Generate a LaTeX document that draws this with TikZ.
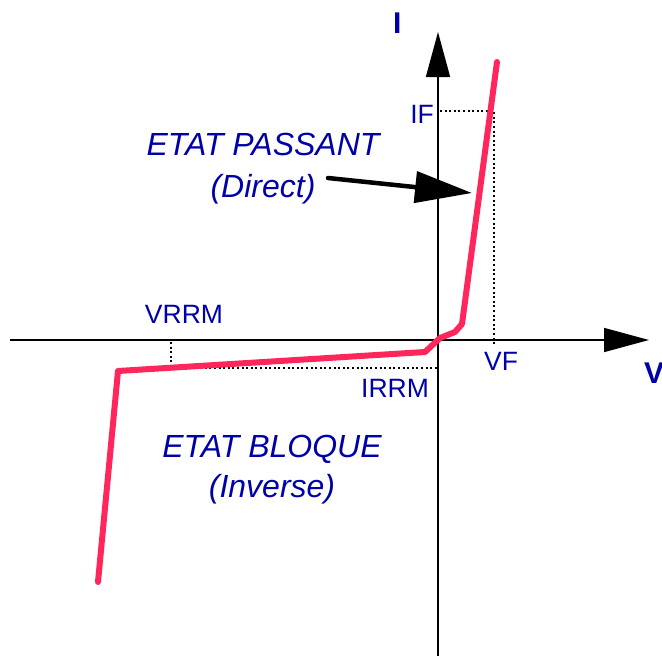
\documentclass[tikz,border=0pt]{standalone}
\usepackage{fontspec}
\setmainfont{Liberation Sans}
\usetikzlibrary{arrows.meta}
\definecolor{lblblue}{RGB}{0,0,168}
\definecolor{curvered}{RGB}{255,38,92}
\tikzset{
  axis/.style={line width=1.6pt, -{Triangle[length=45pt,width=24pt]}},
  guide/.style={line width=2pt, dash pattern=on 2pt off 2.6pt},
  biglbl/.style={text=lblblue, font=\fontsize{32}{36}\selectfont\itshape, inner sep=0pt, anchor=base},
  smalllbl/.style={text=lblblue, font=\fontsize{26.5}{30}\selectfont, inner sep=0pt, anchor=base},
  axislbl/.style={text=lblblue, font=\fontsize{30}{34}\selectfont\bfseries, inner sep=0pt, anchor=base west},
  curve/.style={curvered, line width=6pt, line join=round, line cap=round},
  pointer/.style={line width=4.5pt, line cap=round, -{Triangle[length=57pt,width=31pt]}}
}
\begin{document}
\begin{tikzpicture}[x=1pt,y=-1pt]
\useasboundingbox (0,0) rectangle (662,656);
% axes
\coordinate (vbot) at (438,656);
\coordinate (vtop) at (438,32);
\coordinate (hleft) at (10,340);
\coordinate (hright) at (649,340);
\draw[axis] (vbot) -- (vtop);
\draw[axis] (hleft) -- (hright);
% guides
\coordinate (ifa) at (440,111);
\coordinate (ifb) at (494,111);
\coordinate (vfb) at (494,345);
\coordinate (vra) at (171,342);
\coordinate (vrb) at (171,368);
\coordinate (ira) at (439,368);
\draw[guide] (ifa) -- (ifb) -- (vfb);
\draw[guide] (vra) -- (vrb) -- (ira);
% curve
\coordinate (c0) at (98,582);
\coordinate (c1) at (118,371);
\coordinate (c2) at (425,352);
\coordinate (c3) at (440,338);
\coordinate (c4) at (455,332);
\coordinate (c5) at (462,324);
\coordinate (c6) at (497,62);
\draw[curve] (c0) -- (c1) -- (c2) -- (c3) -- (c4) -- (c5) -- (c6);
% labels
\node[axislbl] (ilbl) at (393,33) {I};
\node[axislbl] (vlbl) at (644,383) {V};
\node[smalllbl, anchor=base east] (iflbl) at (434,123) {IF};
\node[smalllbl, anchor=base west] (vflbl) at (484,370) {VF};
\node[smalllbl] (vrrm) at (184,323) {VRRM};
\node[smalllbl] (irrm) at (395,397) {IRRM};
\node[biglbl] (pass) at (263,155) {ETAT PASSANT};
\node[biglbl] (dir) at (263,197) {(Direct)};
\node[biglbl] (bloq) at (272,457) {ETAT BLOQUE};
\node[biglbl] (inv) at (272,497) {(Inverse)};
% pointer arrow
\coordinate (pa) at (328,178);
\coordinate (pb) at (472,193);
\draw[pointer] (pa) -- (pb);
\end{tikzpicture}
\end{document}
